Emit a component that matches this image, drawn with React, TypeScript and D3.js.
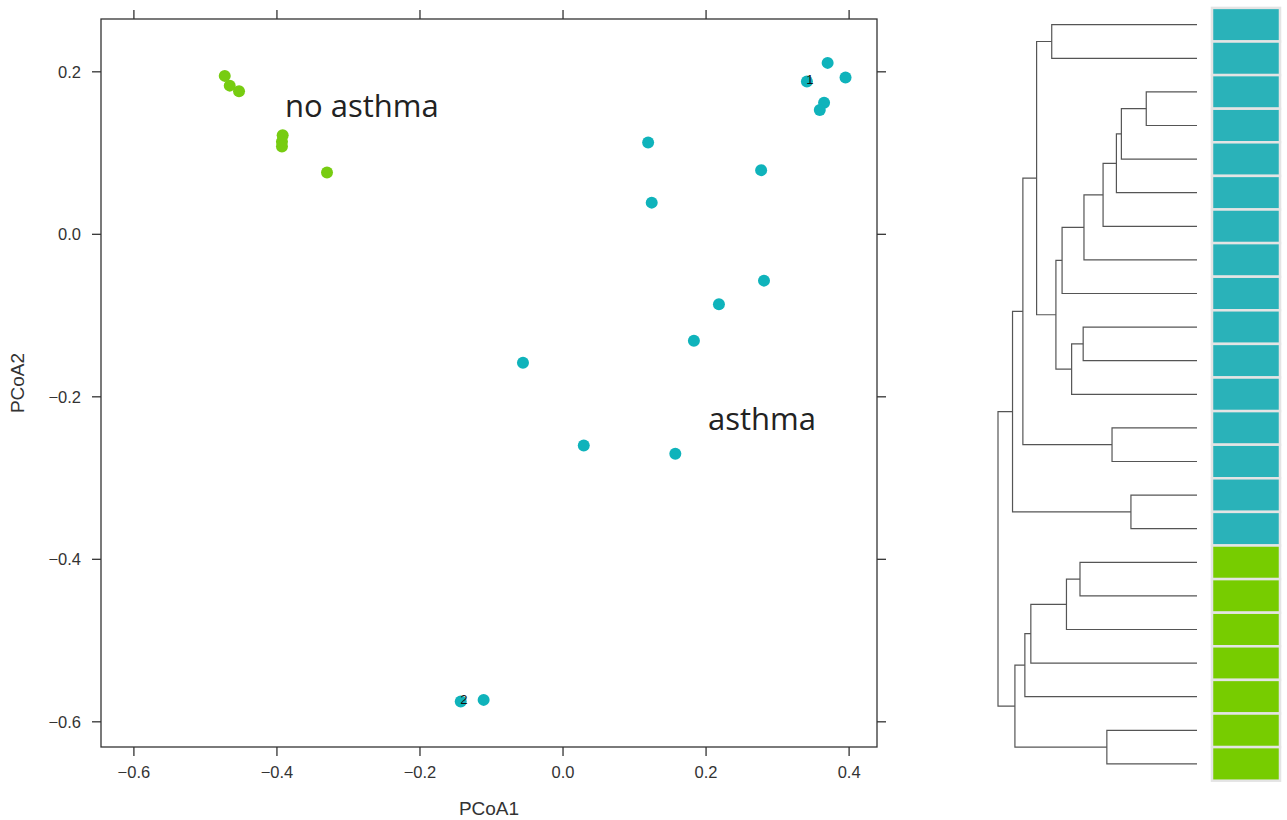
import React from "react";
import * as d3 from "d3";

// PCoA coordinates
const asthmaPC1 = [0.37, 0.341, 0.395, 0.365, 0.359, 0.119, 0.277, 0.124, 0.281, 0.218, 0.183, -0.056, 0.029, 0.157, -0.143, -0.111];
const asthmaPC2 = [0.211, 0.188, 0.193, 0.162, 0.153, 0.113, 0.079, 0.039, -0.057, -0.086, -0.131, -0.158, -0.26, -0.27, -0.575, -0.573];
const noAsthmaPC1 = [-0.473, -0.466, -0.453, -0.392, -0.393, -0.393, -0.33];
const noAsthmaPC2 = [0.195, 0.183, 0.176, 0.122, 0.114, 0.108, 0.076];

// small numeric labels drawn on top of two asthma points
const labelledPoints = [1, 14];
const labelTexts = ["1", "2"];

const xTicks = [-0.6, -0.4, -0.2, 0.0, 0.2, 0.4];
const yTicks = [0.2, 0.0, -0.2, -0.4, -0.6];

// dendrogram leaves, top to bottom
const leafGroups = [
  ...Array(16).fill("asthma"),
  ...Array(7).fill("no asthma"),
];

// hclust-style merges: negative = leaf (1-based), positive = earlier merge row (1-based)
const mergeLeft = [-1, -3, 2, 3, 4, 5, 6, -10, 8, 7, 1, -13, 11, -15, 13, -17, 16, 17, 18, -22, 19, 15];
const mergeRight = [-2, -4, -5, -6, -7, -8, -9, -11, -12, 9, 10, -14, 12, -16, 14, -18, -19, -20, -21, -23, 20, 21];
const mergeHeight = [0.73, 0.255, 0.38, 0.405, 0.472, 0.568, 0.678, 0.572, 0.63, 0.709, 0.806, 0.427, 0.875, 0.332, 0.927, 0.588, 0.656, 0.835, 0.865, 0.453, 0.915, 1.0];

const groupColor: Record<string, string> = {
  asthma: "#2ab2b9",
  "no asthma": "#77cc00",
};
const pointColor: Record<string, string> = {
  asthma: "#0fb3bb",
  "no asthma": "#77cc11",
};

const tickFont = "'Liberation Sans', Arial, sans-serif";
const fmt = (v: number) => d3.format(".1f")(v).replace("-", "\u2212");

interface DNode {
  x: number;
  y: number;
}

function Scatter() {
  const left = 101, right = 877, top = 19, bottom = 747;
  const x = d3.scaleLinear().domain([-0.646, 0.439]).range([left, right]);
  const y = d3.scaleLinear().domain([-0.631, 0.265]).range([bottom, top]);
  const tl = 9;

  const points = [
    ...noAsthmaPC1.map((v, i) => ({ g: "no asthma", a: v, b: noAsthmaPC2[i] })),
    ...asthmaPC1.map((v, i) => ({ g: "asthma", a: v, b: asthmaPC2[i] })),
  ];

  return (
    <g>
      <rect x={left} y={top} width={right - left} height={bottom - top} fill="none" stroke="#333" strokeWidth={1.3} />
      {xTicks.map((t) => (
        <g key={"x" + t}>
          <line x1={x(t)} x2={x(t)} y1={bottom} y2={bottom + tl} stroke="#333" strokeWidth={1.3} />
          <line x1={x(t)} x2={x(t)} y1={top} y2={top - tl} stroke="#333" strokeWidth={1.3} />
          <text x={x(t)} y={778} textAnchor="middle" fontSize={16.5} fontFamily={tickFont} fill="#333">
            {fmt(t)}
          </text>
        </g>
      ))}
      {yTicks.map((t) => (
        <g key={"y" + t}>
          <line x1={left} x2={left - tl} y1={y(t)} y2={y(t)} stroke="#333" strokeWidth={1.3} />
          <line x1={right} x2={right + tl} y1={y(t)} y2={y(t)} stroke="#333" strokeWidth={1.3} />
          <text x={81} y={y(t)} dy="0.35em" textAnchor="end" fontSize={16.5} fontFamily={tickFont} fill="#333">
            {fmt(t)}
          </text>
        </g>
      ))}
      <text x={(left + right) / 2} y={815} textAnchor="middle" fontSize={19} fontFamily={tickFont} fill="#333">
        PCoA1
      </text>
      <text
        transform={`translate(24,${(top + bottom) / 2}) rotate(-90)`}
        textAnchor="middle"
        fontSize={19}
        fontFamily={tickFont}
        fill="#333"
      >
        PCoA2
      </text>
      {points.map((p, i) => (
        <circle key={i} cx={x(p.a)} cy={y(p.b)} r={6} fill={pointColor[p.g]} />
      ))}
      {labelledPoints.map((idx, i) => (
        <text
          key={"l" + i}
          x={x(asthmaPC1[idx]) + 3}
          y={y(asthmaPC2[idx]) - 1}
          dy="0.3em"
          textAnchor="middle"
          fontSize={13}
          fontFamily={tickFont}
          fill="#111"
        >
          {labelTexts[i]}
        </text>
      ))}
      <text x={285} y={117} fontSize={31} fontFamily="'Open Sans', sans-serif" fill="#222">
        no asthma
      </text>
      <text x={708} y={430} fontSize={31} fontFamily="'Open Sans', sans-serif" fill="#222">
        asthma
      </text>
    </g>
  );
}

function Dendrogram() {
  const leafY = d3
    .scalePoint<number>()
    .domain(d3.range(leafGroups.length))
    .range([24.7, 763.9]);
  const hx = d3.scaleLinear().domain([0, 1]).range([1197, 998]);
  const step = leafY.step();

  const nodes: DNode[] = [];
  const paths: string[] = [];
  const get = (id: number): DNode =>
    id < 0 ? { x: hx(0), y: leafY(-id - 1) as number } : nodes[id - 1];

  mergeLeft.forEach((l, i) => {
    const a = get(l);
    const b = get(mergeRight[i]);
    const nx = hx(mergeHeight[i]);
    const ny = (a.y + b.y) / 2;
    const p = d3.path();
    p.moveTo(a.x, a.y);
    p.lineTo(nx, a.y);
    p.lineTo(nx, b.y);
    p.lineTo(b.x, b.y);
    paths.push(p.toString());
    nodes.push({ x: nx, y: ny });
  });

  return (
    <g>
      {paths.map((d, i) => (
        <path key={i} d={d} fill="none" stroke="#555" strokeWidth={1.2} />
      ))}
      {leafGroups.map((g, i) => (
        <rect
          key={"b" + i}
          x={1212}
          y={(leafY(i) as number) - step / 2}
          width={68}
          height={step}
          fill={groupColor[g]}
          stroke="#e4e4e4"
          strokeWidth={2.5}
        />
      ))}
    </g>
  );
}

export default function App() {
  return (
    <svg
      width={1287}
      height={820}
      style={{ position: "absolute", left: 0, top: 0, background: "#fff" }}
    >
      <rect width={1287} height={820} fill="#fff" />
      <Scatter />
      <Dendrogram />
    </svg>
  );
}
